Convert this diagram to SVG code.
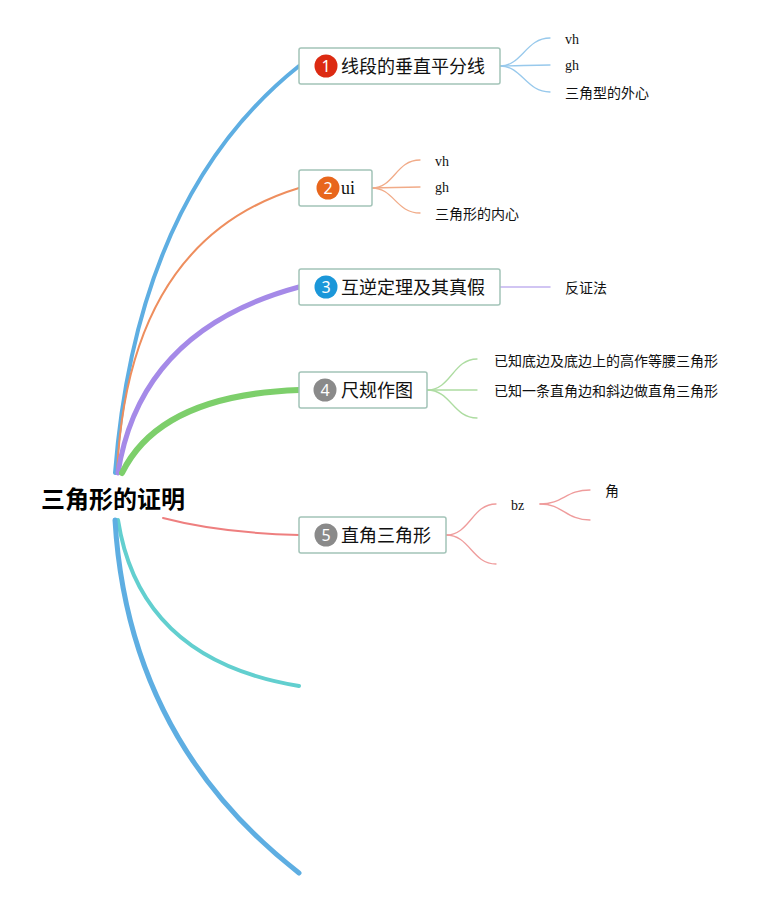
<svg xmlns="http://www.w3.org/2000/svg" width="777" height="899" viewBox="0 0 777 899">
<style>
.box{fill:#ffffff;stroke:#a3c4b8;stroke-width:1.5}
.t{font-family:"Noto Sans CJK SC","Noto Sans",sans-serif;font-size:18px;fill:#111}
.ts{font-family:"Liberation Serif",serif;font-size:18px;fill:#111}
.s{font-family:"Noto Sans CJK SC","Noto Sans",sans-serif;font-size:14px;fill:#111}
.ss{font-family:"Liberation Serif",serif;font-size:14px;fill:#111}
.num{font-family:"Noto Sans","DejaVu Sans",sans-serif;font-size:16px;fill:#fff;text-anchor:middle}
.root{font-family:"Noto Sans CJK SC","Noto Sans",sans-serif;font-size:24px;font-weight:bold;fill:#000}
path{fill:none;stroke-linecap:round}
</style>
<rect width="777" height="899" fill="#ffffff"/>
<g id="connectors">
  <path d="M115,473 Q137,195 299,66" stroke="#5eaee2" stroke-width="4"/>
  <path d="M117,473 Q128,240 299,188" stroke="#ee8e5e" stroke-width="2"/>
  <path d="M118,473 Q140,330 299,287" stroke="#a58ae8" stroke-width="5"/>
  <path d="M122,473 Q160,395 299,390" stroke="#7dcf6b" stroke-width="6"/>
  <path d="M163,518 Q220,533 299,535" stroke="#ee7f7f" stroke-width="2"/>
  <path d="M118,520 Q140,660 299,686" stroke="#62cfcf" stroke-width="4"/>
  <path d="M115,520 Q128,740 299,873" stroke="#5eaee2" stroke-width="5"/>
  <g stroke="#98c9ec" stroke-width="1.3">
    <path d="M500,66 C522,66 526,38 550,38"/>
    <path d="M500,66 C520,66 528,65 550,65"/>
    <path d="M500,66 C522,66 526,92 550,92"/>
  </g>
  <g stroke="#f1ab88" stroke-width="1.3">
    <path d="M372,188 C394,188 396,160 420,160"/>
    <path d="M372,188 C392,188 398,187 420,187"/>
    <path d="M372,188 C394,188 396,213 420,213"/>
  </g>
  <path d="M500,287 L550,287" stroke="#c2b2f0" stroke-width="1.5"/>
  <g stroke="#addca1" stroke-width="1.3">
    <path d="M427,390 C451,390 453,359 477,359"/>
    <path d="M427,390 C449,390 455,390 477,390"/>
    <path d="M427,390 C451,390 453,418 477,418"/>
  </g>
  <g stroke="#ef9c9c" stroke-width="1.3">
    <path d="M446,535 C470,535 472,504 496,504"/>
    <path d="M446,535 C470,535 472,564 496,564"/>
    <path d="M540,504 C563,504 566,490 590,490"/>
    <path d="M540,504 C563,504 566,520 590,520"/>
  </g>
</g>
<g id="root"><text class="root" x="41" y="508">三角形的证明</text></g>
<g id="node1">
  <rect class="box" x="299" y="48" width="201" height="36" rx="2"/>
  <circle cx="326" cy="66" r="11.5" fill="#dc2a12"/>
  <text class="num" x="326" y="72">1</text>
  <text class="t" x="341" y="73">线段的垂直平分线</text>
</g>
<g id="node1a"><text class="ss" x="565" y="44">vh</text></g>
<g id="node1b"><text class="ss" x="565" y="70">gh</text></g>
<g id="node1c"><text class="s" x="565" y="98">三角型的外心</text></g>
<g id="node2">
  <rect class="box" x="299" y="170" width="73" height="36" rx="2"/>
  <circle cx="328" cy="188" r="11.5" fill="#e8661c"/>
  <text class="num" x="328" y="194">2</text>
  <text class="ts" x="341" y="194">ui</text>
</g>
<g id="node2a"><text class="ss" x="435" y="166">vh</text></g>
<g id="node2b"><text class="ss" x="435" y="192">gh</text></g>
<g id="node2c"><text class="s" x="435" y="219">三角形的内心</text></g>
<g id="node3">
  <rect class="box" x="299" y="269" width="201" height="36" rx="2"/>
  <circle cx="326" cy="287" r="11.5" fill="#1b97d9"/>
  <text class="num" x="326" y="293">3</text>
  <text class="t" x="341" y="294">互逆定理及其真假</text>
</g>
<g id="node3a"><text class="s" x="565" y="293">反证法</text></g>
<g id="node4">
  <rect class="box" x="299" y="372" width="128" height="36" rx="2"/>
  <circle cx="325" cy="390" r="11.5" fill="#8a8a8a"/>
  <text class="num" x="325" y="396">4</text>
  <text class="t" x="341" y="397">尺规作图</text>
</g>
<g id="node4a"><text class="s" x="494" y="366">已知底边及底边上的高作等腰三角形</text></g>
<g id="node4b"><text class="s" x="494" y="396">已知一条直角边和斜边做直角三角形</text></g>
<g id="node5">
  <rect class="box" x="299" y="517" width="147" height="36" rx="2"/>
  <circle cx="326" cy="535" r="11.5" fill="#8a8a8a"/>
  <text class="num" x="326" y="541">5</text>
  <text class="t" x="341" y="542">直角三角形</text>
</g>
<g id="node5a"><text class="ss" x="511" y="510">bz</text></g>
<g id="node5b"><text class="s" x="605" y="496">角</text></g>
</svg>
